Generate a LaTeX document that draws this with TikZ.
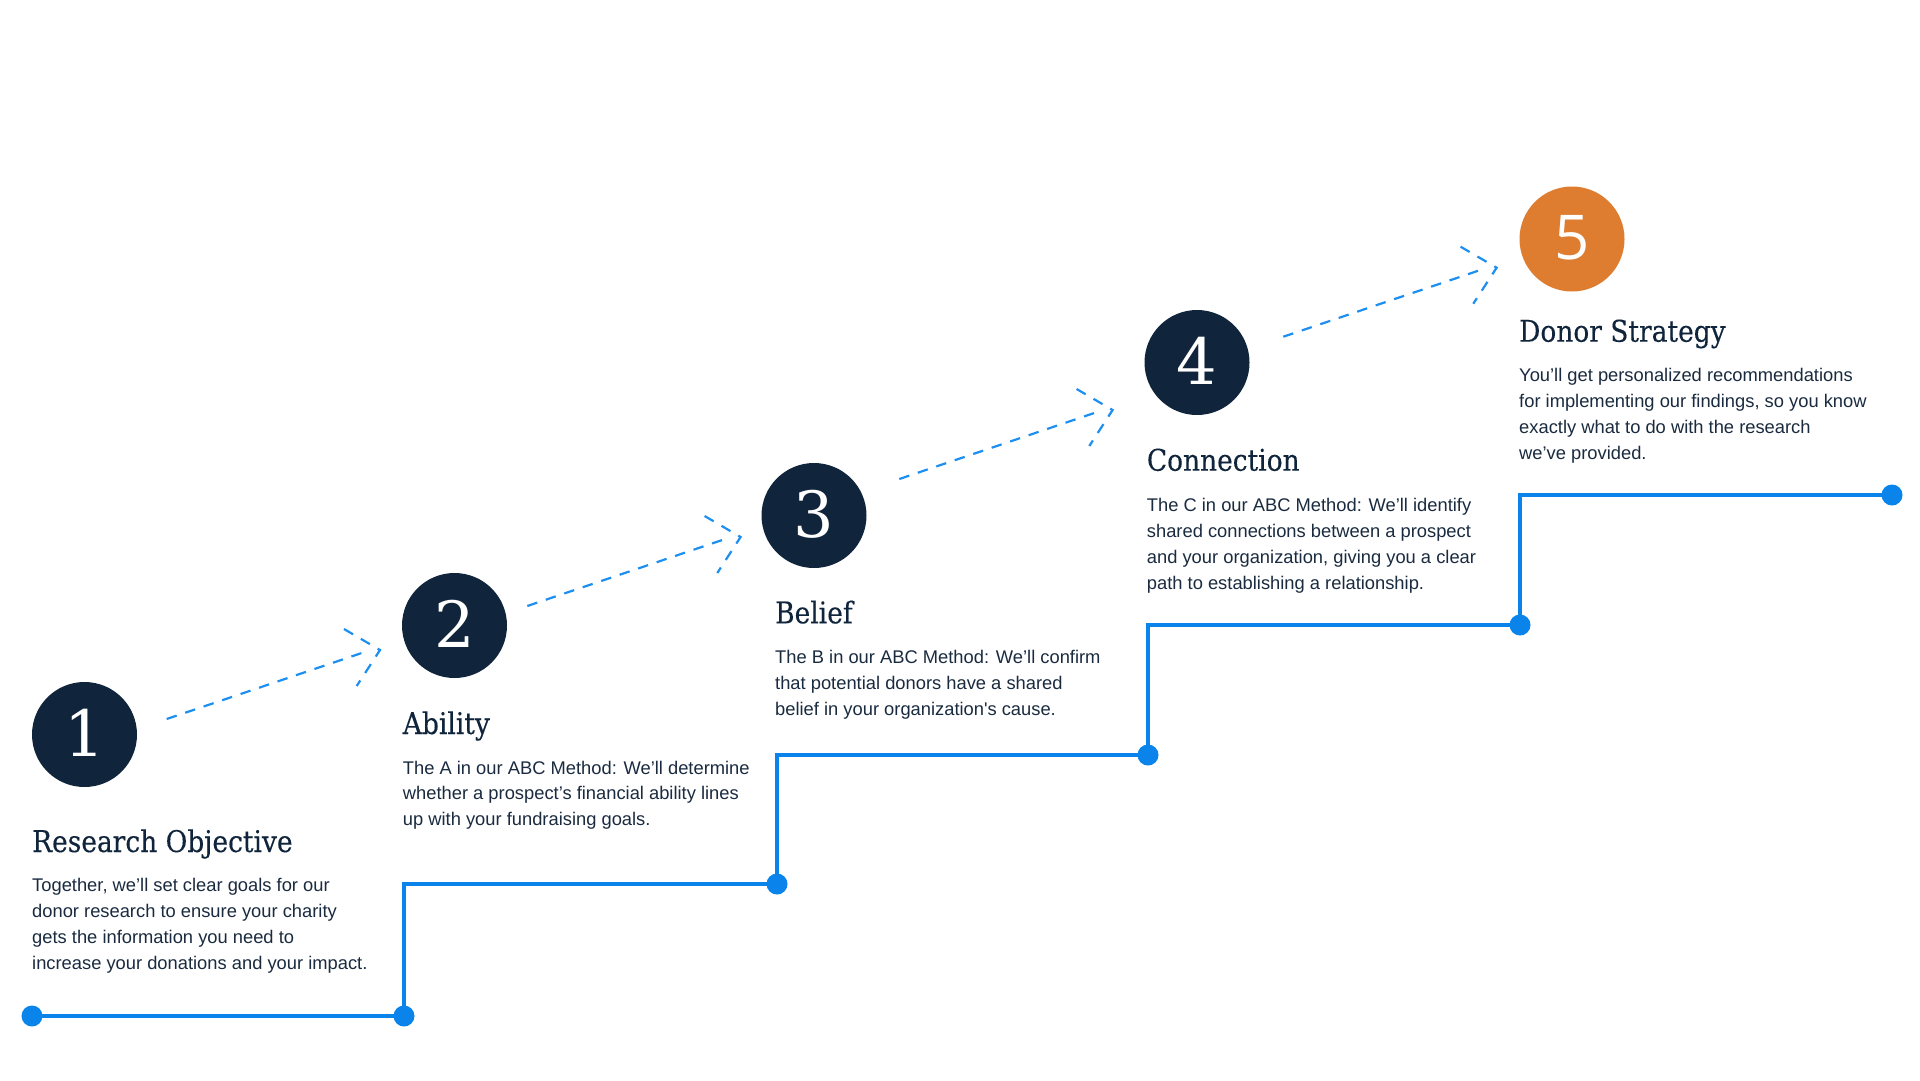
\documentclass[tikz,border=0pt]{standalone}
\usepackage{fontspec}
\usetikzlibrary{calc}
\newfontfamily\slabf[FakeStretch=0.885,FakeBold=0.25]{DejaVu Serif}
\newfontfamily\numf{DejaVu Serif}
\newfontfamily\numsans{Open Sans}
\newfontfamily\bodyf[Ligatures=TeXOff]{Liberation Sans}
\definecolor{navy}{HTML}{10253C}
\definecolor{ink}{HTML}{1A2B40}
\definecolor{orange}{HTML}{DE7D2F}
\definecolor{stairblue}{HTML}{0A84EA}
\definecolor{dashblue}{HTML}{1C8FF0}
\begin{document}
\begin{tikzpicture}[x=1bp,y=-1bp,
  numcircle/.style={circle,fill=navy,minimum size=105bp,inner sep=0,text=white,font=\numf\fontsize{64}{64}\selectfont,text depth=0pt},
  lastcircle/.style={numcircle,fill=orange,font=\numsans\fontsize{62}{62}\selectfont},
  titletext/.style={anchor=base west,inner sep=0,text=navy,font=\slabf\fontsize{30}{36}\selectfont},
  bodytext/.style={anchor=base west,inner sep=0,text=ink,font=\bodyf\fontsize{18.4}{26}\selectfont},
  stair/.style={draw=stairblue,line width=3.4bp},
  dot/.style={circle,fill=stairblue,minimum size=21bp,inner sep=0},
  dasharrow/.style={draw=dashblue,line width=2.2bp,dash pattern=on 10.5bp off 9bp}
]
\useasboundingbox (0,0) rectangle (1920,1080);
\fill[white] (0,0) rectangle (1920,1080);

% stair line
\coordinate (d0) at (32,1016);
\coordinate (d1) at (404,1016);
\coordinate (d2) at (777,884);
\coordinate (d3) at (1148,755);
\coordinate (d4) at (1520,625);
\coordinate (d5) at (1892,495);
\draw[stair] (d0) -- (d1) |- (d2) |- (d3) |- (d4) |- (d5);
\foreach \p in {d0,d1,d2,d3,d4,d5}{\node[dot] (dot-\p) at (\p) {};}

% circles
\node[numcircle] (c1) at (84.5,734.5) {\raisebox{3bp}{1}};
\node[numcircle] (c2) at (454.5,625.5) {\raisebox{3bp}{2}};
\node[numcircle] (c3) at (814,515.5) {\raisebox{3bp}{3}};
\node[numcircle] (c4) at (1197,362.5) {\raisebox{3bp}{4}};
\node[lastcircle] (c5) at (1572,239) {\raisebox{3bp}{5}};

% dashed arrows
\coordinate (s1) at (166.7,719);
\coordinate (s2) at (527.3,606);
\coordinate (s3) at (899.3,479);
\coordinate (s4) at (1283.3,336.7);
\foreach \s in {s1,s2,s3,s4}{
  \draw[dasharrow] (\s) -- ++(195,-66);
  \draw[dasharrow] ($(\s)+(177.3,-90)$) -- ++(36,21) -- ++(-23.3,36);
}

% titles
\node[titletext] (t1) at (32,852) {Research Objective};
\node[titletext] (t2) at (402.7,734) {Ability};
\node[titletext] (t3) at (775,623.3) {Belief};
\node[titletext] (t4) at (1146.7,470.7) {Connection};
\node[titletext] (t5) at (1519,341.7) {Donor Strategy};

% bodies
\node[bodytext] (b1) at (32,891.7) {\parbox[t]{420bp}{\raggedright Together, we’ll set clear goals for our\\donor research to ensure your charity\\gets the information you need to\\increase your donations and your impact.}};
\node[bodytext] (b2) at (402.7,774) {\parbox[t]{420bp}{\raggedright The A in our ABC Method: We’ll determine\\whether a prospect’s financial ability lines\\up with your fundraising goals.}};
\node[bodytext] (b3) at (775,663.3) {\parbox[t]{420bp}{\raggedright The B in our ABC Method: We’ll confirm\\that potential donors have a shared\\belief in your organization's cause.}};
\node[bodytext] (b4) at (1146.7,511.7) {\parbox[t]{420bp}{\raggedright The C in our ABC Method: We’ll identify\\shared connections between a prospect\\and your organization, giving you a clear\\path to establishing a relationship.}};
\node[bodytext] (b5) at (1519,381.7) {\parbox[t]{400bp}{\raggedright You’ll get personalized recommendations\\for implementing our findings, so you know\\exactly what to do with the research\\we’ve provided.}};
\end{tikzpicture}
\end{document}
